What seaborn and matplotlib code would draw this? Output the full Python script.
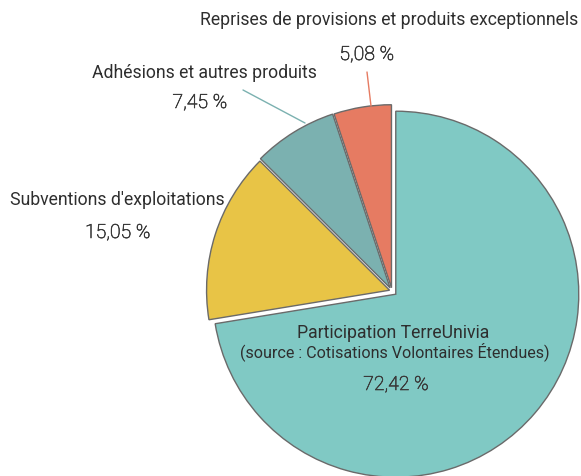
import matplotlib
matplotlib.use("Agg")
import matplotlib.pyplot as plt
import matplotlib.patheffects as pe
import seaborn as sns

labels = ["Participation TerreUnivia\n(source : Cotisations Volontaires Étendues)",
          "Subventions d'exploitations",
          "Adhésions et autres produits",
          "Reprises de provisions et produits exceptionnels"]
values = [72.42, 15.05, 7.45, 5.08]
pct_labels = ["72,42 %", "15,05 %", "7,45 %", "5,08 %"]
colors = ["#80C9C4", "#E8C446", "#7BB1B0", "#E67B62"]

sns.set_theme(style="white")
plt.rcParams['font.family'] = ['Roboto', 'DejaVu Sans']

W, H = 581, 476
fig = plt.figure(figsize=(W / 100, H / 100), dpi=100)
ax = fig.add_axes([0, 0, 1, 1])
R = 183.0
CX, CY = 392.0, 291.0

def px(x, y):
    return (x - CX) / R, (CY - y) / R

ax.pie(values, colors=colors, startangle=90, counterclock=False,
       explode=[0.027, 0.014, 0.02, 0.018], radius=1.0,
       wedgeprops=dict(edgecolor="#6a6a6a", linewidth=1.0))
ax.set_xlim(-CX / R, (W - CX) / R)
ax.set_ylim(-(H - CY) / R, CY / R)
ax.set_aspect("equal")
ax.axis("off")

name_kw = dict(color="#2e2e2e", fontsize=12.7, ha="center", va="center")
pct_kw = dict(color="#3a3a3a", fontsize=14, ha="center", va="center", fontweight="light",
              path_effects=[pe.withStroke(linewidth=0.45, foreground="#3a3a3a")])

# leader lines
x0, y0 = px(243, 90); x1, y1 = px(305, 123)
ax.plot([x0, x1], [y0, y1], color="#7BB1B0", lw=1)
x0, y0 = px(367, 72); x1, y1 = px(371, 106)
ax.plot([x0, x1], [y0, y1], color="#E67B62", lw=1)

ax.text(*px(389, 20), labels[3], **name_kw)
ax.text(*px(367, 55), pct_labels[3], **pct_kw)
ax.text(*px(204, 73), labels[2], **name_kw)
ax.text(*px(200, 103), pct_labels[2], **pct_kw)
ax.text(*px(117, 200), labels[1], **name_kw)
ax.text(*px(118, 233), pct_labels[1], **pct_kw)
l1, l2 = labels[0].split("\n")
ax.text(*px(393, 333), l1, **name_kw)
ax.text(*px(395, 352), l2, **dict(name_kw, fontsize=11.6))
ax.text(*px(396, 385), pct_labels[0], **pct_kw)

fig.savefig("out.png", dpi=100)
